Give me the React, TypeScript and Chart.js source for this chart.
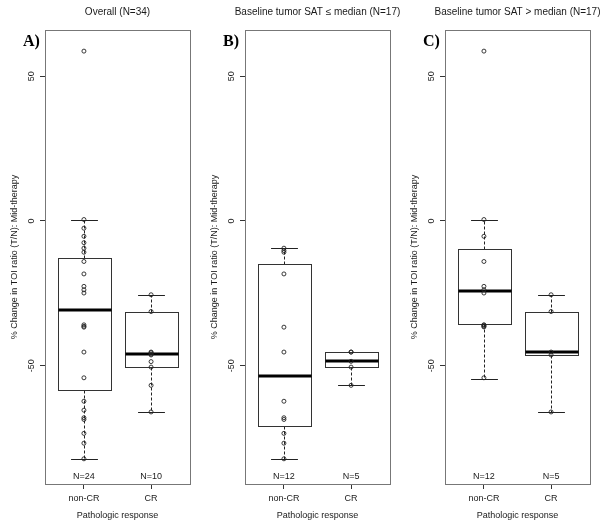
import React, { useEffect, useRef } from "react";
import { Chart, registerables } from "chart.js";

Chart.register(...registerables);

// ---------- data ----------
const categories = ["non-CR", "CR"];
const yTicks = [50, 0, -50];
const yMin = -90.9;
const yMax = 66.0;

const panelTitles = [
  "Overall (N=34)",
  "Baseline tumor SAT \u2264 median (N=17)",
  "Baseline tumor SAT > median (N=17)",
];
const panelLetters = ["A)", "B)", "C)"];

// individual observations (% change)
const overallNonCR = [58.7, 0.5, -2.5, -5.3, -7.5, -9.4, -10.8, -14.0, -18.3, -22.6, -23.8, -24.9, -35.9, -36.4, -36.7, -45.3, -54.2, -62.3, -65.4, -68.0, -68.6, -73.4, -76.8, -82.2];
const overallCR = [-25.5, -31.3, -45.3, -45.5, -46.0, -46.3, -48.6, -50.5, -56.8, -66.0];
const lowNonCR = [-9.4, -10.2, -10.8, -18.3, -36.7, -45.3, -62.3, -68.0, -68.6, -73.4, -76.8, -82.2];
const lowCR = [-45.3, -45.3, -48.5, -50.5, -56.8];
const highNonCR = [58.7, 0.5, -5.3, -14.0, -22.6, -23.8, -24.9, -35.9, -36.0, -36.4, -36.6, -54.2];
const highCR = [-25.5, -31.3, -45.3, -46.3, -66.0];

// box statistics: [lower whisker, Q1, median, Q3, upper whisker]
const overallNonCRBox = [-82.2, -58.3, -30.7, -12.9, 0.5];
const overallCRBox = [-66.0, -50.6, -46.0, -31.5, -25.5];
const lowNonCRBox = [-82.2, -71.0, -53.7, -14.8, -9.4];
const lowCRBox = [-56.8, -50.6, -48.5, -45.3, -45.3];
const highNonCRBox = [-54.5, -35.6, -24.1, -9.7, 0.5];
const highCRBox = [-66.0, -46.4, -45.4, -31.5, -25.5];

const panelPoints = [
  [overallNonCR, overallCR],
  [lowNonCR, lowCR],
  [highNonCR, highCR],
];
const panelBoxes = [
  [overallNonCRBox, overallCRBox],
  [lowNonCRBox, lowCRBox],
  [highNonCRBox, highCRBox],
];

const FONT = "'Liberation Sans', Arial, sans-serif";
const TEXT = "#1a1a1a";

const boxPlugin = {
  id: "boxes",
  beforeDatasetsDraw(chart: any, _a: any, opts: any) {
    const { ctx, scales } = chart;
    const xs = scales.x;
    const ys = scales.y;
    const line = (x1: number, y1: number, x2: number, y2: number) => {
      ctx.beginPath();
      ctx.moveTo(x1, y1);
      ctx.lineTo(x2, y2);
      ctx.stroke();
    };
    (opts.boxes as number[][]).forEach((b, i) => {
      const xc = Math.round(xs.getPixelForValue(i + 1)) + 0.5;
      const half = xs.getPixelForValue(i + 1.4) - xs.getPixelForValue(i + 1);
      const cap = xs.getPixelForValue(i + 1.2) - xs.getPixelForValue(i + 1);
      const [lo, q1, med, q3, hi] = b.map((v) => Math.round(ys.getPixelForValue(v)) + 0.5);
      ctx.save();
      ctx.lineWidth = 1;
      ctx.strokeStyle = "#222";
      ctx.setLineDash([3, 2]);
      line(xc, q1, xc, lo);
      line(xc, q3, xc, hi);
      ctx.setLineDash([]);
      line(xc - cap, lo, xc + cap, lo);
      line(xc - cap, hi, xc + cap, hi);
      ctx.strokeStyle = "#333";
      const l = Math.round(xc - half) + 0.5;
      const r = Math.round(xc + half) + 0.5;
      ctx.strokeRect(l, q3, r - l, q1 - q3);
      ctx.lineWidth = 3;
      ctx.strokeStyle = "#000";
      const m = Math.round(ys.getPixelForValue(b[2]));
      line(l, m, r, m);
      ctx.restore();
    });
  },
  afterDraw(chart: any, _a: any, opts: any) {
    const { ctx, chartArea, scales } = chart;
    const xs = scales.x;
    const ys = scales.y;
    ctx.save();
    // frame
    ctx.strokeStyle = "#777";
    ctx.lineWidth = 1;
    ctx.strokeRect(
      Math.round(chartArea.left) + 0.5,
      Math.round(chartArea.top) + 0.5,
      Math.round(chartArea.right - chartArea.left),
      Math.round(chartArea.bottom - chartArea.top)
    );
    // main title, centred over the plot region
    ctx.fillStyle = TEXT;
    ctx.font = `10px ${FONT}`;
    ctx.textAlign = "center";
    ctx.textBaseline = "middle";
    ctx.fillText(opts.title, (chartArea.left + chartArea.right) / 2, 12.3);
    // y tick labels (rotated like R)
    ctx.font = `9px ${FONT}`;
    yTicks.forEach((v) => {
      ctx.save();
      ctx.translate(chartArea.left - 13.2, ys.getPixelForValue(v));
      ctx.rotate(-Math.PI / 2);
      ctx.fillText(String(v), 0, 0);
      ctx.restore();
    });
    // N labels
    (opts.counts as number[]).forEach((n, i) => {
      ctx.fillText(`N=${n}`, xs.getPixelForValue(i + 1), chartArea.bottom - 7.3);
    });
    // panel letter
    ctx.font = `bold 16px 'Liberation Serif', 'Times New Roman', serif`;
    ctx.textAlign = "left";
    ctx.textBaseline = "alphabetic";
    ctx.fillStyle = "#000";
    ctx.fillText(opts.letter, chartArea.left - 22, chartArea.top + 15.5);
    ctx.restore();
  },
};

function Panel({ index }: { index: number }) {
  const ref = useRef<HTMLCanvasElement | null>(null);
  const width = index === 2 ? 211 : 200;
  useEffect(() => {
    if (!ref.current) return;
    const pts = panelPoints[index];
    const chart = new Chart(ref.current, {
      type: "scatter",
      data: {
        datasets: pts.map((arr, g) => ({
          label: categories[g],
          data: arr.map((v) => ({ x: g + 1, y: v })),
          pointRadius: 2,
          pointBorderWidth: 0.9,
          borderColor: "#222",
          backgroundColor: "rgba(0,0,0,0)",
          showLine: false,
        })),
      },
      options: {
        animation: false,
        responsive: false,
        events: [],
        layout: { padding: { left: 0, right: width - 190, top: 30, bottom: 0 } },
        plugins: {
          legend: { display: false },
          tooltip: { enabled: false },
          title: { display: false },
          boxes: {
            boxes: panelBoxes[index],
            counts: pts.map((a) => a.length),
            letter: panelLetters[index],
            title: panelTitles[index],
          },
        } as any,
        scales: {
          x: {
            type: "linear",
            min: 0.42,
            max: 2.58,
            afterBuildTicks: (s: any) => {
              s.ticks = categories.map((_, i) => ({ value: i + 1 }));
            },
            afterFit: (s: any) => {
              s.height = 48;
            },
            ticks: {
              callback: (v: any) => categories[Number(v) - 1],
              color: TEXT,
              font: { family: FONT, size: 9 },
              padding: 4,
              maxRotation: 0,
              autoSkip: false,
            },
            grid: { drawOnChartArea: false, drawTicks: true, tickLength: 5, color: "#333" },
            border: { display: false },
            title: {
              display: true,
              text: "Pathologic response",
              color: TEXT,
              font: { family: FONT, size: 9 },
              padding: { top: 0, bottom: 10.6 },
            },
          },
          y: {
            type: "linear",
            min: yMin,
            max: yMax,
            afterBuildTicks: (s: any) => {
              s.ticks = yTicks.map((v) => ({ value: v }));
            },
            afterFit: (s: any) => {
              s.width = 45;
            },
            ticks: { display: false },
            grid: { drawOnChartArea: false, drawTicks: true, tickLength: 5, color: "#333" },
            border: { display: false },
            title: {
              display: true,
              text: "% Change in TOI ratio (T/N): Mid-therapy",
              color: TEXT,
              font: { family: FONT, size: 9 },
              padding: { top: 9.6, bottom: 0 },
            },
          },
        },
      } as any,
      plugins: [boxPlugin as any],
    });
    return () => chart.destroy();
  }, [index, width]);
  return (
    <canvas
      ref={ref}
      width={width}
      height={532}
      style={{ position: "absolute", left: index * 200, top: 0, width, height: 532 }}
    />
  );
}

export default function App() {
  return (
    <div style={{ position: "absolute", left: 0, top: 0, width: 611, height: 532, background: "#fff" }}>
      <Panel index={0} />
      <Panel index={1} />
      <Panel index={2} />
    </div>
  );
}
